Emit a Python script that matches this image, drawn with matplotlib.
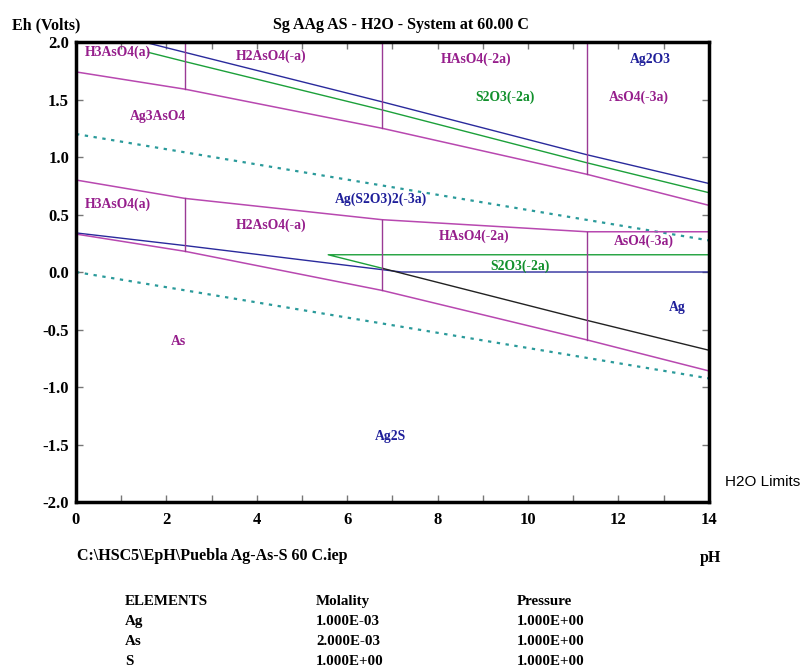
import matplotlib
matplotlib.use("Agg")
import matplotlib.pyplot as plt
import numpy as np

# ---------------- data ----------------
ph_water = [0, 14]
eh_o2_limit = [1.20, 0.275]
eh_h2_limit = [0.0, -0.925]

ph_blue_up = [1.5, 2.41, 6.77, 11.3, 14]
eh_blue_up = [2.0, 1.91, 1.48, 1.02, 0.77]

ph_green_up = [1.6, 2.41, 6.77, 11.3, 14]
eh_green_up = [1.91, 1.83, 1.41, 0.95, 0.69]

ph_mag_up = [0, 2.41, 6.77, 11.3, 14]
eh_mag_up = [1.74, 1.59, 1.25, 0.85, 0.58]

ph_mag_mid = [0, 2.41, 6.77, 11.3, 14]
eh_mag_mid = [0.80, 0.64, 0.455, 0.35, 0.35]

ph_blue_mid = [0, 2.41, 7.2, 14]
eh_blue_mid = [0.34, 0.23, 0.0, 0.0]

ph_green_mid = [14, 5.58, 6.8]
eh_green_mid = [0.15, 0.15, 0.03]

ph_black = [6.8, 11.3, 14]
eh_black = [0.03, -0.42, -0.68]

ph_mag_low = [0, 2.41, 6.77, 11.3, 14]
eh_mag_low = [0.33, 0.18, -0.16, -0.59, -0.86]

ph_vert = [2.41, 6.77, 11.3]

labels_mag = [("H3AsO4(a)", 0.93, 1.91), ("H2AsO4(-a)", 4.31, 1.88),
              ("HAsO4(-2a)", 8.85, 1.85), ("AsO4(-3a)", 12.45, 1.52),
              ("Ag3AsO4", 1.82, 1.35), ("H3AsO4(a)", 0.93, 0.585),
              ("H2AsO4(-a)", 4.31, 0.41), ("HAsO4(-2a)", 8.8, 0.31),
              ("AsO4(-3a)", 12.57, 0.265), ("As", 2.26, -0.60)]
labels_blue = [("Ag2O3", 12.7, 1.85), ("Ag(S2O3)2(-3a)", 6.75, 0.63),
               ("Ag", 13.3, -0.31), ("Ag2S", 6.95, -1.43)]
labels_green = [("S2O3(-2a)", 9.5, 1.52), ("S2O3(-2a)", 9.82, 0.05)]

elements = ["Ag", "As", "S"]
molality = ["1.000E-03", "2.000E-03", "1.000E+00"]
pressure = ["1.000E+00", "1.000E+00", "1.000E+00"]

# ---------------- styles ----------------
SERIF = ["Liberation Serif", "DejaVu Serif"]
C_MAG_LINE = "#b848b0"
C_VERT = "#9a3a95"
C_MAG_TXT = "#961e8c"
C_BLUE = "#2a2a9c"
C_BLUE_TXT = "#1f1f9a"
C_GREEN = "#1ca03a"
C_GREEN_TXT = "#11902c"
C_TEAL = "#2a9a9a"
LBL = 9.8

fig = plt.figure(figsize=(8.0, 6.68), dpi=100)
ax = fig.add_axes([0.095, 0.2485, 0.791, 0.6886])
ax.set_xlim(0, 14)
ax.set_ylim(-2.0, 2.0)

# water limits
ax.plot(ph_water, eh_o2_limit, color=C_TEAL, lw=1.6, ls=(0, (1.5, 2.5)))
ax.plot(ph_water, eh_h2_limit, color=C_TEAL, lw=1.6, ls=(0, (1.5, 2.5)))

ax.plot(ph_blue_up, eh_blue_up, color=C_BLUE, lw=1.0)
ax.plot(ph_green_up, eh_green_up, color=C_GREEN, lw=1.0)
ax.plot(ph_mag_up, eh_mag_up, color=C_MAG_LINE, lw=1.1)
ax.plot(ph_mag_mid, eh_mag_mid, color=C_MAG_LINE, lw=1.1)
ax.plot(ph_blue_mid, eh_blue_mid, color=C_BLUE, lw=1.0)
ax.plot(ph_green_mid, eh_green_mid, color=C_GREEN, lw=1.0)
ax.plot(ph_black, eh_black, color="#222222", lw=1.0)
ax.plot(ph_mag_low, eh_mag_low, color=C_MAG_LINE, lw=1.1)

for p in ph_vert:
    top_lo = np.interp(p, ph_mag_up, eh_mag_up)
    ax.plot([p, p], [2.0, top_lo], color=C_VERT, lw=1.0)
    mid_hi = np.interp(p, ph_mag_mid, eh_mag_mid)
    mid_lo = np.interp(p, ph_mag_low, eh_mag_low)
    ax.plot([p, p], [mid_hi, mid_lo], color=C_VERT, lw=1.0)

for txt, x, y in labels_mag:
    ax.text(x, y, txt, color=C_MAG_TXT, fontsize=LBL, fontweight="bold",
            family=SERIF, ha="center", va="center")
for txt, x, y in labels_blue:
    ax.text(x, y, txt, color=C_BLUE_TXT, fontsize=LBL, fontweight="bold",
            family=SERIF, ha="center", va="center")
for txt, x, y in labels_green:
    ax.text(x, y, txt, color=C_GREEN_TXT, fontsize=LBL, fontweight="bold",
            family=SERIF, ha="center", va="center")

# axes styling
for s in ax.spines.values():
    s.set_linewidth(2.5)
    s.set_color("black")
ax.set_xticks(np.arange(0, 15, 1))
ax.set_xticklabels([str(v) if v % 2 == 0 else "" for v in range(15)])
ax.set_yticks(np.arange(-2.0, 2.01, 0.5))
ax.set_yticklabels(["%.1f" % v for v in np.arange(-2.0, 2.01, 0.5)])
ax.tick_params(direction="in", length=5, width=1, color="#777777",
               top=True, right=True, labelsize=12)
ax.tick_params(axis="y", pad=5)
ax.tick_params(axis="x", pad=7)
for lab in ax.get_xticklabels() + ax.get_yticklabels():
    lab.set_family(SERIF)
    lab.set_fontweight("bold")

# outer text
fig.text(12 / 800, 1 - 29 / 668, "Eh (Volts)", family=SERIF, fontweight="bold",
         fontsize=11.5, va="baseline", ha="left")
fig.text(273 / 800, 1 - 29 / 668, "Sg AAg AS - H2O - System at 60.00 C",
         family=SERIF, fontweight="bold", fontsize=11.5, va="baseline", ha="left")
fig.text(77 / 800, 1 - 560 / 668, r"C:\HSC5\EpH\Puebla Ag-As-S 60 C.iep",
         family=SERIF, fontweight="bold", fontsize=11.5, va="baseline", ha="left")
fig.text(710 / 800, 1 - 562 / 668, "pH", family=SERIF, fontweight="bold",
         fontsize=11.5, va="baseline", ha="center")
fig.text(725 / 800, 1 - 486 / 668, "H2O Limits", family=["Liberation Sans", "DejaVu Sans"],
         fontsize=11, va="baseline", ha="left")

# table
rows_base = [605, 625, 645, 665]
col_x = [125, 316, 517]
TB = 10.8
fig.text(col_x[0] / 800, 1 - rows_base[0] / 668, "ELEMENTS", family=SERIF, fontweight="bold",
         fontsize=TB, va="baseline", ha="left")
fig.text(col_x[1] / 800, 1 - rows_base[0] / 668, "Molality", family=SERIF, fontweight="bold",
         fontsize=TB, va="baseline", ha="left")
fig.text(col_x[2] / 800, 1 - rows_base[0] / 668, "Pressure", family=SERIF, fontweight="bold",
         fontsize=TB, va="baseline", ha="left")
for i, el in enumerate(elements):
    y = 1 - rows_base[i + 1] / 668
    fig.text(col_x[0] / 800, y, el, family=SERIF, fontweight="bold", fontsize=TB,
             va="baseline", ha="left")
    fig.text(col_x[1] / 800, y, molality[i], family=SERIF, fontweight="bold", fontsize=TB,
             va="baseline", ha="left")
    fig.text(col_x[2] / 800, y, pressure[i], family=SERIF, fontweight="bold", fontsize=TB,
             va="baseline", ha="left")

fig.savefig("out.png", dpi=100, facecolor="white")
